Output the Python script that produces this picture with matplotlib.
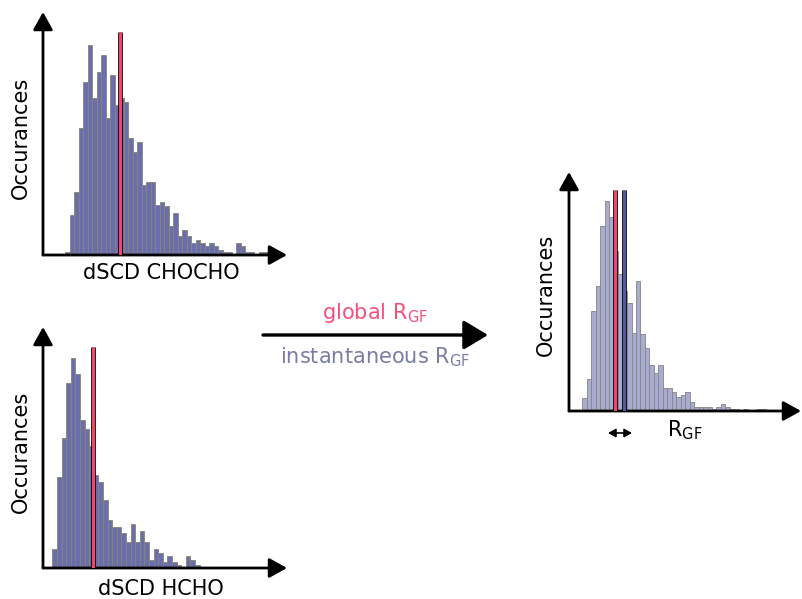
import numpy as np
import matplotlib
matplotlib.use('Agg')
import matplotlib.pyplot as plt

W, H = 802, 599

# histogram counts, one value per bin (schematic)
chocho_counts = [8, 120, 190, 380, 520, 630, 470, 550, 600, 410,
                 540, 450, 470, 460, 350, 310, 340, 210, 220, 220,
                 150, 160, 148, 86, 126, 56, 76, 56, 36, 46,
                 36, 26, 36, 26, 16, 8, 8, 0, 36, 26,
                 8, 8, 0, 8, 8]
hcho_counts = [58, 273, 391, 556, 631, 583, 445, 418, 365, 278,
               258, 203, 143, 123, 123, 105, 78, 133, 78, 111,
               78, 25, 58, 44, 17, 37, 17, 10, 4, 37,
               24, 10, 4, 4, 4, 0, 0, 4, 4, 4,
               4, 0, 0, 0, 0, 0, 4]
ratio_counts = [40, 96, 300, 375, 555, 631, 581, 480, 410, 360,
                325, 235, 390, 230, 190, 138, 115, 138, 70, 70,
                56, 42, 47, 56, 28, 12, 12, 12, 12, 6,
                12, 20, 12, 6, 6, 0, 6, 0, 0, 6,
                6, 0, 0, 0, 0, 6]

# marker positions in bin units
chocho_global = 12.3
hcho_global = 8.8
ratio_global = 7.4
ratio_inst = 9.3

BAR_DARK = '#6a6eae'
BAR_LIGHT = '#a9abd0'
EDGE_DARK = '#86866e'
EDGE_LIGHT = '#858585'
RED = '#f5446a'
NAVY = '#55599a'
PINK_TXT = '#f2527a'
BLUE_TXT = '#7a7ca6'


def box(left, top, right, bottom):
    return [left / W, 1 - bottom / H, (right - left) / W, (bottom - top) / H]


def fxy(x, y):
    return (x / W, 1 - y / H)


def hist_panel(fig, rect, counts, xlim, ymax, color, edge):
    ax = fig.add_axes(rect)
    ax.bar(np.arange(len(counts)), counts, width=1, align='edge',
           color=color, edgecolor=edge, linewidth=0.6)
    ax.set_xlim(*xlim)
    ax.set_ylim(0, ymax)
    ax.axis('off')
    for end in [(1, 0), (0, 1)]:
        ax.annotate('', xy=end, xytext=(0, 0), xycoords='axes fraction',
                    arrowprops=dict(arrowstyle='-|>,head_length=0.54,head_width=0.3',
                                    mutation_scale=20, lw=2, color='black',
                                    shrinkA=0, shrinkB=0),
                    annotation_clip=False)
    return ax


def marker_line(ax, x, top, color):
    ax.plot([x, x], [0, top], color='black', lw=3.4, solid_capstyle='butt', zorder=3)
    ax.plot([x, x], [0, top], color=color, lw=2.2, solid_capstyle='butt', zorder=4)


fig = plt.figure(figsize=(W / 100, H / 100), dpi=100)

ax1 = hist_panel(fig, box(43, 12, 287, 255), chocho_counts,
                 (-4.89, 49.33), 729, BAR_DARK, EDGE_DARK)
marker_line(ax1, chocho_global, 669, RED)

ax2 = hist_panel(fig, box(43, 327, 287, 568), hcho_counts,
                 (-2.02, 51.0), 723, BAR_DARK, EDGE_DARK)
marker_line(ax2, hcho_global, 663, RED)

ax3 = hist_panel(fig, box(569, 172, 801, 411), ratio_counts,
                 (-2.98, 48.9), 717, BAR_LIGHT, EDGE_LIGHT)
marker_line(ax3, ratio_global, 663, RED)
marker_line(ax3, ratio_inst, 663, NAVY)

fs = 15
fig.text(*fxy(21, 138), 'Occurances', rotation=90, ha='center', va='center', fontsize=fs)
fig.text(*fxy(21, 452), 'Occurances', rotation=90, ha='center', va='center', fontsize=fs)
fig.text(*fxy(546, 295), 'Occurances', rotation=90, ha='center', va='center', fontsize=fs)
fig.text(*fxy(161, 273), 'dSCD CHOCHO', ha='center', va='center', fontsize=fs)
fig.text(*fxy(161, 589), 'dSCD HCHO', ha='center', va='center', fontsize=fs)
fig.text(*fxy(685, 430), r'R$_{\mathrm{GF}}$', ha='center', va='center', fontsize=fs)

# middle arrow with labels
ax1.annotate('', xy=fxy(488, 335), xytext=fxy(263, 335), xycoords='figure fraction',
             arrowprops=dict(arrowstyle='-|>,head_length=0.75,head_width=0.45',
                             mutation_scale=20, lw=2.4, color='black',
                             shrinkA=0, shrinkB=0),
             annotation_clip=False)
fig.text(*fxy(375, 313), r'global R$_{\mathrm{GF}}$', ha='center', va='center',
         fontsize=fs, color=PINK_TXT)
fig.text(*fxy(375, 357), r'instantaneous R$_{\mathrm{GF}}$', ha='center', va='center',
         fontsize=fs, color=BLUE_TXT)

# small double arrow under the ratio histogram
ax3.annotate('', xy=fxy(632, 433), xytext=fxy(608, 433), xycoords='figure fraction',
             arrowprops=dict(arrowstyle='<|-|>,head_length=0.45,head_width=0.25',
                             mutation_scale=10, lw=1.2, color='black',
                             shrinkA=0, shrinkB=0),
             annotation_clip=False)

fig.savefig('out.png', dpi=100)
